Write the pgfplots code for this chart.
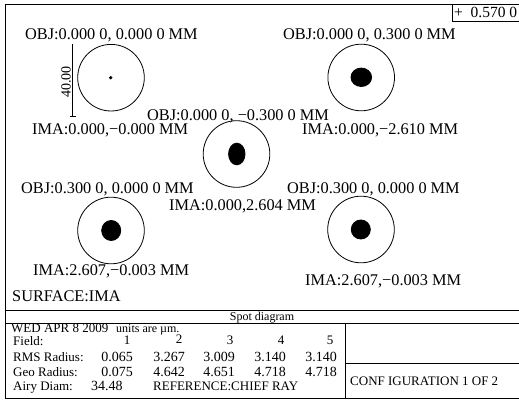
\documentclass[border=0pt]{standalone}
\usepackage{fontspec}
\setmainfont{Liberation Serif}
\usepackage{pgfplots}
\pgfplotsset{compat=1.18}
\newcommand\bigtxt{\fontsize{16.3}{18}\selectfont}
\newcommand\smtxt{\fontsize{13}{15}\selectfont}
\newcommand\numtxt{\fontsize{14}{16}\selectfont}
\newcommand\tinytxt{\fontsize{12}{14}\selectfont}
\tikzset{
  lbl/.style={anchor=base west, inner sep=0pt, font=\bigtxt},
  tl/.style={anchor=base west, inner sep=0pt, font=\smtxt},
  tr/.style={anchor=base east, inner sep=0pt, font=\numtxt},
  tc/.style={anchor=base, inner sep=0pt, font=\smtxt},
}
\begin{document}
\begin{tikzpicture}
\begin{axis}[
  width=519pt, height=401pt, scale only axis,
  xmin=0, xmax=519, ymin=0, ymax=401, y dir=reverse,
  hide axis, clip=false,
  every axis plot/.append style={black, line width=0.9pt},
]
% frame and table lines
\addplot[mark=none] coordinates {(5,4) (519,4)};
\addplot[mark=none] coordinates {(5,4) (5,398)};
\addplot[mark=none] coordinates {(5,398) (519,398)};
\addplot[mark=none] coordinates {(5,310) (519,310)};
\addplot[mark=none] coordinates {(5,323) (519,323)};
\addplot[mark=none] coordinates {(345,323) (345,398)};
\addplot[mark=none] coordinates {(345,363) (519,363)};
\addplot[mark=none] coordinates {(452,4) (452,21) (519,21)};
% scale bar
\addplot[mark=none] coordinates {(72.5,44) (72.5,116.5)};
\addplot[mark=none] coordinates {(69.5,116.5) (76,116.5)};
% Airy circles
\addplot[only marks, mark=o, mark size=33.3pt, mark options={line width=0.8pt}]
  coordinates {(111,77.7) (361.2,77.5) (236.5,154) (111,230.5) (361,229.5)};
% spots
\addplot[only marks, mark=*, mark size=1.2pt] coordinates {(110.7,77.7)};
\addplot[only marks, mark=*, mark size=10pt, mark options={xscale=1.03, yscale=0.92}] coordinates {(361.3,77.3)};
\addplot[only marks, mark=*, mark size=10pt, mark options={xscale=0.82, yscale=1.08}] coordinates {(236.8,154)};
\addplot[only marks, mark=*, mark size=10pt, mark options={xscale=0.95, yscale=1.0}] coordinates {(111.2,230.5)};
\addplot[only marks, mark=*, mark size=9.5pt] coordinates {(360.8,229.5)};
% field labels
\node[lbl] at (axis cs:25,39.5) {OBJ:0.000 0, 0.000 0 MM};
\node[lbl] at (axis cs:32,135) {IMA:0.000,−0.000 MM};
\node[lbl] at (axis cs:283,40) {OBJ:0.000 0, 0.300 0 MM};
\node[lbl] at (axis cs:302,135) {IMA:0.000,−2.610 MM};
\node[lbl] at (axis cs:147,120.5) {OBJ:0.000 0, −0.300 0 MM};
\node[lbl] at (axis cs:169,211) {IMA:0.000,2.604 MM};
\node[lbl] at (axis cs:21,193.5) {OBJ:0.300 0, 0.000 0 MM};
\node[lbl] at (axis cs:33,275.5) {IMA:2.607,−0.003 MM};
\node[lbl] at (axis cs:287,193.5) {OBJ:0.300 0, 0.000 0 MM};
\node[lbl] at (axis cs:305,285.5) {IMA:2.607,−0.003 MM};
\node[lbl] at (axis cs:12,301.5) {SURFACE:IMA};
\node[anchor=base west, inner sep=0pt, font=\fontsize{15.5}{17}\selectfont] at (axis cs:454,18) {+\ \ 0.570 0};
\node[anchor=base, inner sep=0pt, font=\fontsize{14}{16}\selectfont, rotate=90] at (axis cs:70.5,82) {40.00};
% table
\node[anchor=base, inner sep=0pt, font=\tinytxt] at (axis cs:262,320) {Spot diagram};
\node[tl] at (axis cs:11,332) {WED APR 8 2009};
\node[anchor=base west, inner sep=0pt, font=\tinytxt] at (axis cs:116,332) {units are µm.};
\node[tl] at (axis cs:13,345) {Field:};
\node[tc] at (axis cs:127,344.5) {1};
\node[tc] at (axis cs:179,343) {2};
\node[tc] at (axis cs:230,344.5) {3};
\node[tc] at (axis cs:281,344.5) {4};
\node[tc] at (axis cs:330,344.5) {5};
\node[tl] at (axis cs:13,361) {RMS Radius:};
\node[tl] at (axis cs:13,376) {Geo Radius:};
\node[tl] at (axis cs:13,390) {Airy Diam:};
\node[tr] at (axis cs:133,361) {0.065};
\node[tr] at (axis cs:185,361) {3.267};
\node[tr] at (axis cs:235,361) {3.009};
\node[tr] at (axis cs:286,361) {3.140};
\node[tr] at (axis cs:337,361) {3.140};
\node[tr] at (axis cs:133,376) {0.075};
\node[tr] at (axis cs:185,376) {4.642};
\node[tr] at (axis cs:235,376) {4.651};
\node[tr] at (axis cs:286,376) {4.718};
\node[tr] at (axis cs:337,376) {4.718};
\node[anchor=base west, inner sep=0pt, font=\numtxt] at (axis cs:91,390) {34.48};
\node[tl] at (axis cs:153,390) {REFERENCE:CHIEF RAY};
\node[tl] at (axis cs:350,385) {CONF IGURATION 1 OF 2};
\end{axis}
\pgfresetboundingbox
\path (0,0) rectangle (519pt,401pt);
\end{tikzpicture}
\end{document}
